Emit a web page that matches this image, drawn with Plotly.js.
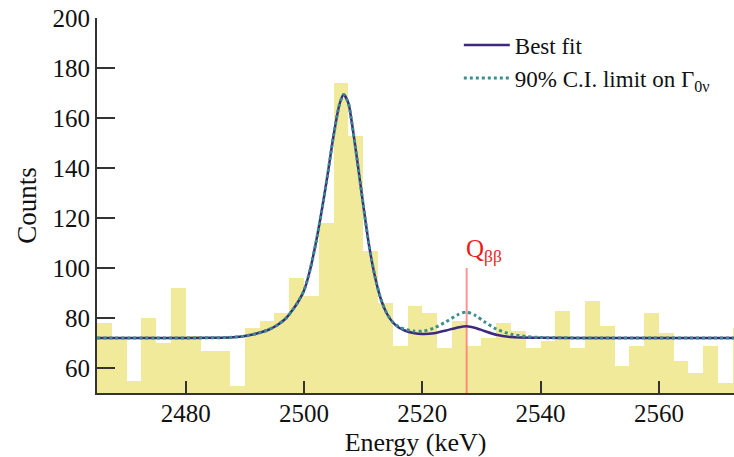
<!DOCTYPE html>
<html>
<head>
<meta charset="utf-8">
<script src="https://cdn.plot.ly/plotly-3.0.1.min.js"></script>
<style>
html,body{margin:0;padding:0;background:#fff;}
#chart{width:734px;height:457px;}
</style>
</head>
<body>
<div id="chart"></div>
<script>
// Histogram: lower edges of 2.5 keV bins and counts
const binLow = [2465,2467.5,2470,2472.5,2475,2477.5,2480,2482.5,2485,2487.5,
  2490,2492.5,2495,2497.5,2500,2502.5,2505,2507.5,2510,2512.5,
  2515,2517.5,2520,2522.5,2525,2527.5,2530,2532.5,2535,2537.5,
  2540,2542.5,2545,2547.5,2550,2552.5,2555,2557.5,2560,2562.5,
  2565,2567.5,2570,2572.5];
const counts = [78,72,55,80,70,92,73,67,67,53,
  76,79,82,96,89,118,174,153,107,86,
  69,85,82,68,79,69,72,78,75,68,
  71,83,68,87,77,61,69,82,74,63,
  58,69,54,76];
const binWidth = 2.5;

// Best fit curve
const fitE = [2465,2475,2485,2488,2490,2492,2494,2495.5,2497,2498,2499,2500,2501,2502,2503,2504,2505,2506,2506.7,
  2507.5,2508,2509,2510,2511,2512,2513,2514,2515,2516,2517,2518.5,2520,2522,2524,2526,2527.5,2529,2530.5,2532.5,2535,2540,2550,2573];
const fitC = [72.0,72.0,72.1,72.3,72.8,73.8,75.3,77.2,80.0,83.0,86.5,91.0,99.0,110.0,123.0,137.5,153.0,165.5,169.4,
  166.0,159.5,143.0,125.5,109.0,96.5,87.5,81.8,78.3,76.2,75.0,74.0,73.6,73.9,75.0,76.2,76.7,76.0,74.8,73.3,72.4,72.1,72.0,72.0];

// 90% C.I. limit curve
const limE = [2465,2475,2485,2488,2490,2492,2494,2495.5,2497,2498,2499,2500,2501,2502,2503,2504,2505,2506,2506.7,
  2507.5,2508,2509,2510,2511,2512,2513,2514,2515,2516,2517,2518.5,2520,2522,2524,2526,2527.5,2529,2530.5,2532.5,2535,2537.5,2540,2550,2573];
const limC = [72.0,72.0,72.1,72.3,72.8,73.8,75.3,77.2,80.0,83.0,86.5,91.0,99.0,110.0,123.0,137.5,153.0,165.5,169.4,
  166.0,159.5,143.0,125.5,109.0,96.5,87.5,81.8,78.4,76.5,75.5,74.8,74.7,76.0,78.5,81.3,82.4,81.0,78.5,75.6,73.5,72.6,72.2,72.0,72.0];

const qbb = 2527.5;
const qLineY = [50, 100];

const xTicks = [2480,2500,2520,2540,2560];
const yTicks = [60,80,100,120,140,160,180,200];

const serif = '"Liberation Serif", "Times New Roman", serif';

const traces = [
  {type:'bar', x: binLow, y: counts, width: binLow.map(()=>binWidth), offset: 0,
   marker:{color:'#f0ea9a', line:{width:0}}, showlegend:false, hoverinfo:'skip'},
  {type:'scatter', mode:'lines', x:[qbb,qbb], y:qLineY,
   line:{color:'rgba(255,110,110,0.75)', width:2}, showlegend:false, hoverinfo:'skip'},
  {type:'scatter', mode:'lines', x: fitE, y: fitC, name:'Best fit',
   line:{color:'#3d2a7e', width:2.5, shape:'spline', smoothing:0.7}},
  {type:'scatter', mode:'lines', x: limE, y: limC, name:'90% C.I. limit on Γ<sub>0ν</sub>',
   line:{color:'#3b8e8c', width:3, dash:'dot', shape:'spline', smoothing:0.7}}
];

const layout = {
  width:734, height:457,
  margin:{l:97, r:0, t:18, b:64},
  paper_bgcolor:'#fff', plot_bgcolor:'#fff',
  bargap:0,
  font:{family:serif, color:'#111', size:24},
  xaxis:{range:[2465, 2572.7], tickvals:xTicks, ticks:'inside', ticklen:12, tickwidth:2, tickcolor:'#333',
    showline:true, linecolor:'#333', linewidth:2, showgrid:false, zeroline:false,
    ticklabelstandoff:-3,
    tickfont:{family:serif, size:25, color:'#111'},
    title:{text:'Energy (keV)', font:{family:serif, size:26, color:'#111'}}},
  yaxis:{range:[50,200], tickvals:yTicks, ticks:'inside', ticklen:18, tickwidth:2, tickcolor:'#333',
    showline:true, linecolor:'#333', linewidth:2, showgrid:false, zeroline:false,
    tickfont:{family:serif, size:25, color:'#111'},
    title:{text:'Counts', font:{family:serif, size:27, color:'#111'}, standoff:8}},
  legend:{x:0.568, y:0.985, xanchor:'left', yanchor:'top', bgcolor:'rgba(0,0,0,0)',
    font:{family:serif, size:23, color:'#111'}, tracegroupgap:18, itemwidth:46},
  annotations:[{x:qbb, y:qLineY[1], xref:'x', yref:'y', xanchor:'left', yanchor:'bottom', xshift:-3,
    text:'Q<sub>ββ</sub>', showarrow:false, font:{family:serif, size:25, color:'#ee1c1c'}}]
};

Plotly.newPlot('chart', traces, layout, {displayModeBar:false, staticPlot:true});
</script>
</body>
</html>
